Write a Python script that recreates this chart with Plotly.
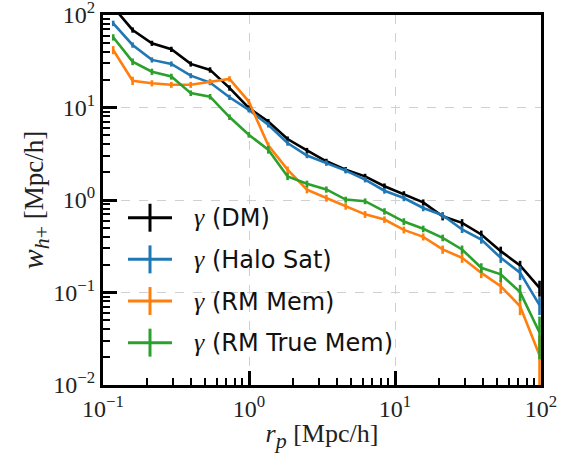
import plotly.graph_objects as go

# projected separation bins [Mpc/h]
rp = [0.1175, 0.1595, 0.2163, 0.2938, 0.399, 0.541, 0.735, 0.997, 1.355, 1.837,
      2.494, 3.388, 4.594, 6.24, 8.47, 11.5, 15.6, 21.2, 28.8, 39.0, 53.0, 71.9, 97.7]

# w_{h+} measurements and their errors [Mpc/h]
w_dm = [122, 68.9, 49.5, 42.6, 29.6, 25.5, 16.3, 9.9, 7.06, 4.56, 3.44, 2.62, 2.13,
        1.80, 1.41, 1.16, 0.944, 0.667, 0.566, 0.424, 0.28, 0.196, 0.112]
e_dm = [8, 4.5, 3.2, 2.8, 1.9, 1.7, 1.1, 0.65, 0.45, 0.3, 0.22, 0.17, 0.14,
        0.12, 0.1, 0.085, 0.07, 0.065, 0.055, 0.043, 0.033, 0.024, 0.022]

w_halo = [81.3, 47.4, 32.7, 29.6, 22.1, 18.6, 12.9, 9.44, 6.5, 4.13, 3.03, 2.51, 2.08,
          1.66, 1.26, 1.05, 0.82, 0.685, 0.48, 0.374, 0.237, 0.164, 0.073]
e_halo = [5.5, 3.1, 2.1, 1.9, 1.4, 1.2, 0.85, 0.6, 0.42, 0.27, 0.2, 0.17, 0.14,
          0.11, 0.09, 0.08, 0.065, 0.055, 0.04, 0.037, 0.028, 0.028, 0.016]

w_rm = [41.9, 19.5, 18.3, 17.6, 17.6, 19.1, 20.4, 11.6, 3.9, 2.13, 1.29, 1.05, 0.855,
        0.70, 0.615, 0.475, 0.40, 0.292, 0.237, 0.163, 0.117, 0.071, 0.021]
e_rm = [4.2, 2.0, 1.4, 1.3, 1.3, 1.3, 1.4, 0.8, 0.3, 0.17, 0.11, 0.09, 0.07,
        0.06, 0.05, 0.04, 0.035, 0.03, 0.028, 0.02, 0.02, 0.014, 0.013]

w_rmtrue = [57.4, 31.3, 24.4, 21.6, 14.3, 13.1, 7.88, 5.07, 3.5, 1.80, 1.50, 1.30, 1.01,
            0.97, 0.755, 0.585, 0.488, 0.39, 0.292, 0.185, 0.157, 0.101, 0.037]
e_rmtrue = [4.5, 2.6, 1.9, 1.6, 1.0, 0.9, 0.55, 0.35, 0.33, 0.16, 0.12, 0.1, 0.075,
            0.07, 0.06, 0.05, 0.04, 0.032, 0.03, 0.022, 0.027, 0.02, 0.018]

labels = ["(DM)", "(Halo Sat)", "(RM Mem)", "(RM True Mem)"]
colors = ["#000000", "#1f77b4", "#ff7f0e", "#2ca02c"]
series = [(w_dm, e_dm), (w_halo, e_halo), (w_rm, e_rm), (w_rmtrue, e_rmtrue)]

x_ticks = [0.1, 1, 10, 100]
x_ticktext = ["10<sup>−1</sup>", "10<sup>0</sup>", "10<sup>1</sup>", "10<sup>2</sup>"]
y_ticks = [0.01, 0.1, 1, 10, 100]
y_ticktext = ["10<sup>−2</sup>", "10<sup>−1</sup>", "10<sup>0</sup>", "10<sup>1</sup>", "10<sup>2</sup>"]

SERIF = "Liberation Serif"
SANS = "DejaVu Sans"

fig = go.Figure()
for (w, e), c, lab in zip(series, colors, labels):
    fig.add_trace(go.Scatter(
        x=rp, y=w, mode="lines", name=lab,
        line=dict(color=c, width=2.6),
        error_y=dict(type="data", array=e, visible=True, color=c, thickness=2.6, width=0),
        showlegend=False,
    ))

# plot box in pixels
L, R, T, B = 103, 541, 15, 385.5
W, H = 576, 455

def px(xp):
    return (xp - L) / (R - L)

def py(yp):
    return (B - yp) / (B - T)

# legend: line with a vertical error bar glyph, then the label
for i, (c, lab) in enumerate(zip(colors, labels)):
    yc = 218 + 41.7 * i
    fig.add_shape(type="line", xref="paper", yref="paper",
                  x0=px(128), x1=px(172), y0=py(yc), y1=py(yc),
                  line=dict(color=c, width=3))
    fig.add_shape(type="line", xref="paper", yref="paper",
                  x0=px(150), x1=px(150), y0=py(yc - 14), y1=py(yc + 14),
                  line=dict(color=c, width=3))
    fig.add_annotation(xref="paper", yref="paper", x=px(192), y=py(yc),
                       xanchor="left", yanchor="middle", showarrow=False,
                       text=f"<span style='font-family:{SERIF};font-size:26px'><i>γ</i></span> {lab}",
                       font=dict(family=SANS, size=24, color="#111"))

axis_common = dict(
    type="log",
    showline=True, linewidth=3, linecolor="black", mirror=True,
    ticks="inside", ticklen=14, tickwidth=2.5, tickcolor="black",
    showgrid=True, gridcolor="#d0d0d0", griddash="dash", gridwidth=1,
    zeroline=False,
    tickfont=dict(family=SERIF, size=24, color="#222"),
    ticklabeloverflow="allow",
    minor=dict(ticks="inside", ticklen=7, tickwidth=1.5, tickcolor="black",
               dtick="D1", showgrid=False),
    automargin=False,
)

fig.update_xaxes(**axis_common, range=[-1, 2], tickvals=x_ticks, ticktext=x_ticktext,
                 title=dict(text="<i>r</i><sub><span style='font-size:22px'><i>p</i></span></sub> [Mpc/h]",
                            font=dict(family=SERIF, size=26, color="#222"), standoff=4))
fig.update_yaxes(**axis_common, range=[-2, 2], tickvals=y_ticks, ticktext=y_ticktext,
                 title=dict(text="<span style='font-size:30px'><i>w</i></span><sub><span style='font-size:22px'><i>h</i>+</span></sub> [Mpc/h]",
                            font=dict(family=SERIF, size=27, color="#222"), standoff=2))

fig.update_layout(
    width=W, height=H,
    margin=dict(l=L, r=W - R, t=T, b=H - B),
    paper_bgcolor="white", plot_bgcolor="white",
    showlegend=False,
)

fig.write_html("out.html")
